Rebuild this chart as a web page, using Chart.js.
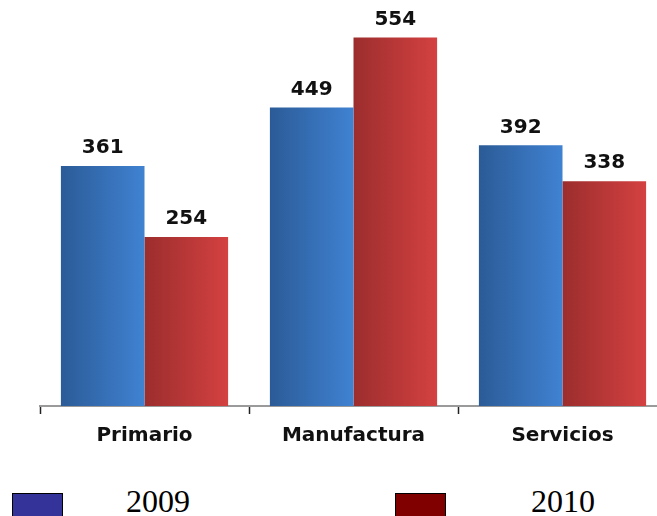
<!DOCTYPE html>
<html>
<head>
<meta charset="utf-8">
<script src="https://cdn.jsdelivr.net/npm/chart.js@4"></script>
<style>
  html, body { margin: 0; padding: 0; background: #fff; overflow: hidden; width: 657px; height: 516px; }
  #wrap { position: absolute; left: 0; top: 0; width: 700px; height: 460px; }
  .sw { position: absolute; width: 51px; height: 32px; border: 1px solid #000; box-sizing: border-box; }
  .lt { position: absolute; font-family: "Liberation Serif", "Times New Roman", serif; font-size: 32px; line-height: 32px; color: #000; white-space: nowrap; }
</style>
</head>
<body>
<div id="wrap"><canvas id="c"></canvas></div>
<div id="legend"></div>
<script>
const categories = ["Primario", "Manufactura", "Servicios"];
const seriesNames = ["2009", "2010"];
const values2009 = [361, 449, 392];
const values2010 = [254, 554, 338];

const gradStops = [
  ["#2b5b97", "#4082d2"],
  ["#9c2d2d", "#d44141"]
];
const legendColors = ["#333399", "#800000"];

function barGradient(ctx) {
  const chart = ctx.chart;
  const xs = chart.scales && chart.scales.x;
  const stops = gradStops[ctx.datasetIndex];
  if (!xs || !chart.chartArea || ctx.dataIndex == null) return stops[1];
  const n = categories.length;
  const cat = xs.width / n;
  const group = cat * 0.8;
  const bw = group / 2;
  const center = xs.getPixelForValue(ctx.dataIndex);
  const left = center - group / 2 + ctx.datasetIndex * bw;
  const g = chart.ctx.createLinearGradient(left, 0, left + bw, 0);
  g.addColorStop(0, stops[0]);
  g.addColorStop(1, stops[1]);
  return g;
}

const valueLabels = {
  id: "valueLabels",
  afterDatasetsDraw(chart) {
    const c = chart.ctx;
    c.save();
    c.font = "bold 20px 'DejaVu Sans', Verdana, sans-serif";
    c.fillStyle = "#111";
    c.textAlign = "center";
    c.textBaseline = "bottom";
    chart.data.datasets.forEach((ds, di) => {
      const meta = chart.getDatasetMeta(di);
      meta.data.forEach((el, i) => {
        c.fillText(String(ds.data[i]), el.x, el.y - 8);
      });
    });
    c.restore();
  }
};

new Chart(document.getElementById("c"), {
  type: "bar",
  data: {
    labels: categories,
    datasets: [
      { label: seriesNames[0], data: values2009, backgroundColor: barGradient, borderWidth: 0 },
      { label: seriesNames[1], data: values2010, backgroundColor: barGradient, borderWidth: 0 }
    ]
  },
  options: {
    responsive: true,
    maintainAspectRatio: false,
    animation: false,
    events: [],
    layout: { padding: { left: 40, right: 33, top: 7, bottom: 0 } },
    plugins: { legend: { display: false }, tooltip: { enabled: false } },
    datasets: { bar: { categoryPercentage: 0.8, barPercentage: 1.0 } },
    scales: {
      y: { display: false, min: 0, max: 600 },
      x: {
        afterFit(scale) { scale.height = 54; },
        border: { display: true, color: "#9a9a9a", width: 2 },
        grid: { display: true, drawOnChartArea: false, drawTicks: true, tickLength: 8, tickColor: "#222", tickWidth: 1.5, offset: true },
        ticks: { color: "#111", padding: 10, font: { family: "'DejaVu Sans', Verdana, sans-serif", size: 20, weight: "bold" } }
      }
    }
  },
  plugins: [valueLabels]
});

const legend = document.getElementById("legend");
const swX = [12, 395];
const txX = [126, 531];
seriesNames.forEach((name, i) => {
  const s = document.createElement("div");
  s.className = "sw";
  s.style.left = swX[i] + "px";
  s.style.top = "493px";
  s.style.background = legendColors[i];
  legend.appendChild(s);
  const t = document.createElement("div");
  t.className = "lt";
  t.style.left = txX[i] + "px";
  t.style.top = "485px";
  t.textContent = name;
  legend.appendChild(t);
});
</script>
</body>
</html>
